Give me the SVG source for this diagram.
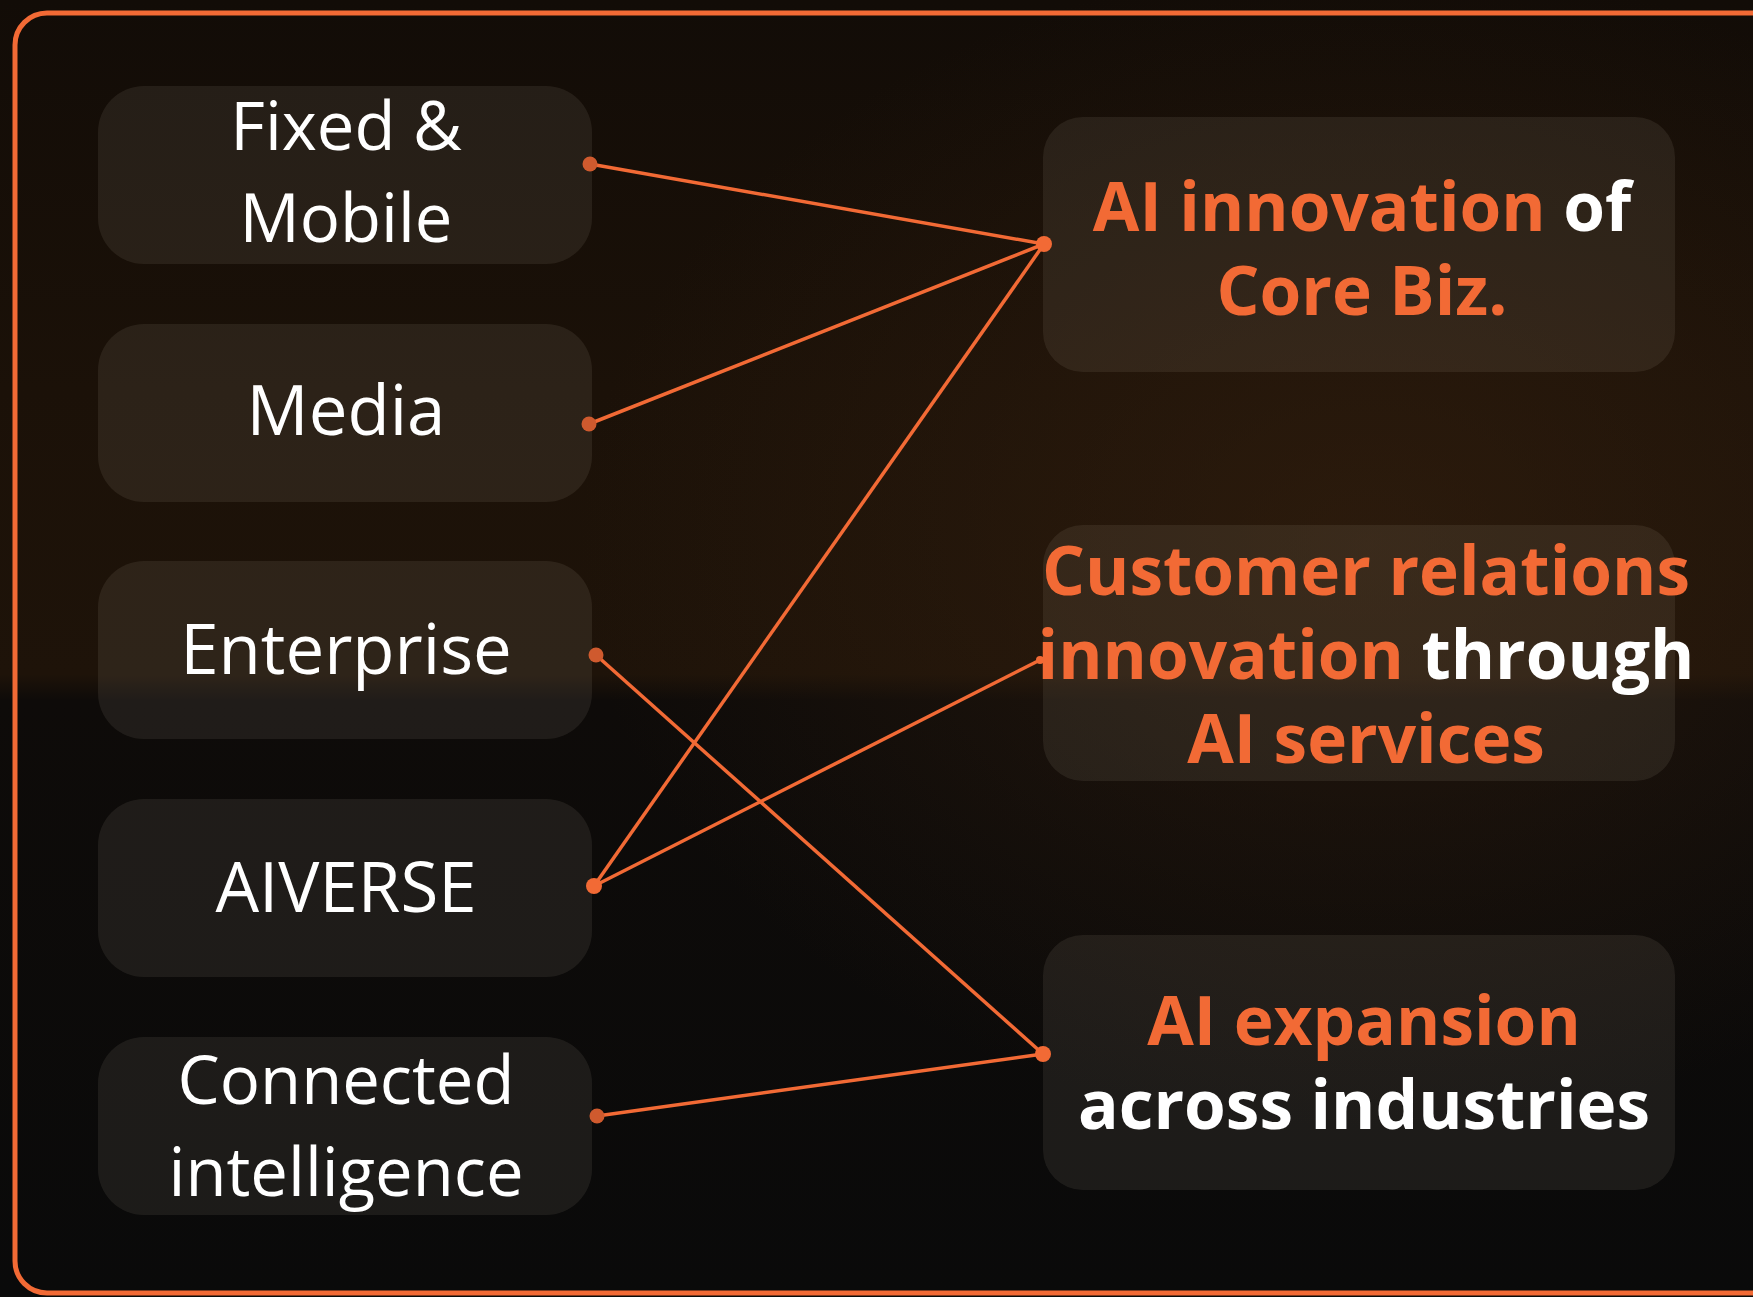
<svg xmlns="http://www.w3.org/2000/svg" width="1753" height="1297" viewBox="0 0 1753 1297">
  <defs>
    <linearGradient id="bg" x1="0" y1="0" x2="0" y2="1">
      <stop offset="0" stop-color="#120c07"/>
      <stop offset="0.3" stop-color="#1b1108"/>
      <stop offset="0.52" stop-color="#1e1309"/>
      <stop offset="0.54" stop-color="#0e0b09"/>
      <stop offset="1" stop-color="#0a0a0a"/>
    </linearGradient>
    <radialGradient id="glow" cx="0.78" cy="0.42" r="0.45">
      <stop offset="0" stop-color="#3a2310" stop-opacity="0.5"/>
      <stop offset="1" stop-color="#3a2310" stop-opacity="0"/>
    </radialGradient>
    <style>
      .box { fill: #c8b8a8; fill-opacity: 0.1; }
      .lbl { font-family: "Open Sans", "Liberation Sans", sans-serif; font-size: 69px; fill: #ffffff; text-anchor: middle; }
      .lbl2 { font-size: 67px; }
      .hd { font-family: "Open Sans", "Liberation Sans", sans-serif; font-size: 67.5px; font-weight: 700; fill: #ffffff; text-anchor: middle; }
      .or { fill: #f26a35; }
      .wh { fill: #ffffff; }
      .edge { stroke: #f26a35; stroke-width: 3.5; fill: none; }
      .dotL { fill: #cf5a2e; }
      .dotR { fill: #f26a35; }
    </style>
  </defs>
  <rect x="0" y="0" width="1753" height="1297" fill="url(#bg)"/>
  <rect x="0" y="0" width="1753" height="1297" fill="url(#glow)"/>
  <rect id="frame" x="15" y="13" width="1770" height="1280" rx="32" ry="32" fill="none" stroke="#f26a35" stroke-width="5"/>

  <g id="node-fixed-mobile">
    <rect class="box" x="98" y="86" width="494" height="178" rx="46"/>
    <text class="lbl lbl2"><tspan x="346" y="150">Fixed &amp;</tspan><tspan x="346" y="242">Mobile</tspan></text>
  </g>
  <g id="node-media">
    <rect class="box" x="98" y="324" width="494" height="178" rx="46"/>
    <text class="lbl" x="346" y="435">Media</text>
  </g>
  <g id="node-enterprise">
    <rect class="box" x="98" y="561" width="494" height="178" rx="46"/>
    <text class="lbl" x="346" y="674">Enterprise</text>
  </g>
  <g id="node-aiverse">
    <rect class="box" x="98" y="799" width="494" height="178" rx="46"/>
    <text class="lbl" x="346" y="912">AIVERSE</text>
  </g>
  <g id="node-connected">
    <rect class="box" x="98" y="1037" width="494" height="178" rx="46"/>
    <text class="lbl lbl2"><tspan x="346" y="1104">Connected</tspan><tspan x="346" y="1196">intelligence</tspan></text>
  </g>

  <g id="node-ai-innovation">
    <rect class="box" x="1043" y="117" width="632" height="255" rx="40"/>
    <text class="hd"><tspan x="1362" y="231" class="or">AI innovation</tspan><tspan class="wh"> of</tspan><tspan x="1362" y="315" class="or">Core Biz.</tspan></text>
  </g>
  <g id="node-customer">
    <rect class="box" x="1043" y="525" width="632" height="256" rx="40"/>
    <text class="hd"><tspan x="1366" y="595" class="or">Customer relations</tspan><tspan x="1366" y="679" class="or">innovation</tspan><tspan class="wh"> through</tspan><tspan x="1366" y="763" class="or">AI services</tspan></text>
  </g>
  <g id="node-ai-expansion">
    <rect class="box" x="1043" y="935" width="632" height="255" rx="40"/>
    <text class="hd"><tspan x="1364" y="1045" class="or">AI expansion</tspan><tspan x="1364" y="1129" class="wh">across industries</tspan></text>
  </g>

  <g id="connectors">
    <line class="edge" x1="590" y1="164" x2="1044" y2="244"/>
    <line class="edge" x1="589" y1="424" x2="1044" y2="244"/>
    <line class="edge" x1="594" y1="886" x2="1044" y2="244"/>
    <line class="edge" x1="594" y1="886" x2="1040" y2="660"/>
    <line class="edge" x1="596" y1="655" x2="1043" y2="1054"/>
    <line class="edge" x1="597" y1="1116" x2="1043" y2="1054"/>
    <circle class="dotL" cx="590" cy="164" r="7.5"/>
    <circle class="dotL" cx="589" cy="424" r="7.5"/>
    <circle class="dotL" cx="596" cy="655" r="7.5"/>
    <circle class="dotR" cx="594" cy="886" r="8"/>
    <circle class="dotL" cx="597" cy="1116" r="7.5"/>
    <circle class="dotR" cx="1044" cy="244" r="8"/>
    <circle class="dotR" cx="1040" cy="660" r="4"/>
    <circle class="dotR" cx="1043" cy="1054" r="8"/>
  </g>
</svg>
